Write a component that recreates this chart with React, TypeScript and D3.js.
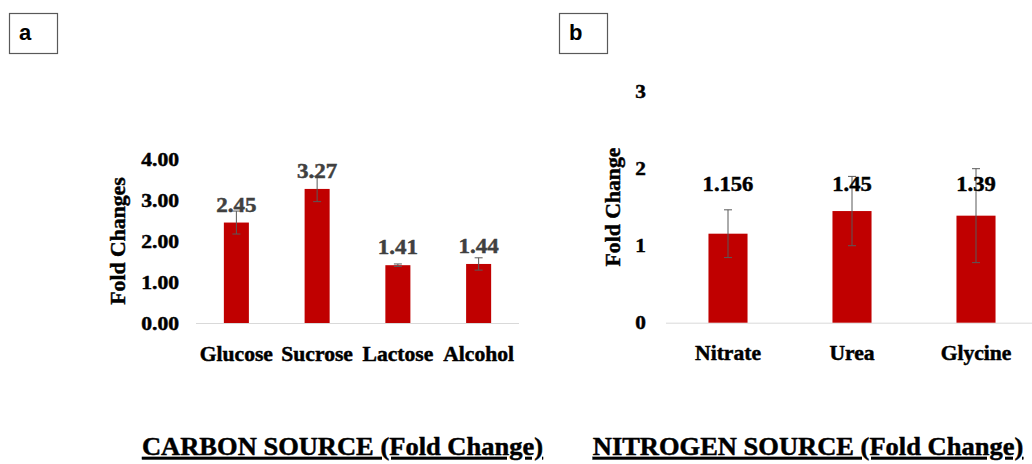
import React from "react";
import * as d3 from "d3";

const carbonCategories = ["Glucose", "Sucrose", "Lactose", "Alcohol"];
const carbonValues = [2.45, 3.27, 1.41, 1.44];
const carbonErrors = [0.28, 0.31, 0.03, 0.15];
const carbonLabels = ["2.45", "3.27", "1.41", "1.44"];
const carbonTicks = [0, 1, 2, 3, 4];

const nitrogenCategories = ["Nitrate", "Urea", "Glycine"];
const nitrogenValues = [1.156, 1.45, 1.39];
const nitrogenErrors = [0.31, 0.45, 0.61];
const nitrogenLabels = ["1.156", "1.45", "1.39"];
const nitrogenTicks = [0, 1, 2, 3];

const SERIF = "'Liberation Serif', 'Times New Roman', serif";
const SANS = "'Liberation Sans', Arial, sans-serif";
const BAR = "#c00000";
const ERR = "#595959";
const AXIS = "#d9d9d9";

type TProps = {
  x: number;
  y: number;
  sx?: number;
  size: number;
  anchor?: "start" | "middle" | "end";
  fill?: string;
  rotate?: number;
  underline?: boolean;
  children: React.ReactNode;
};

function T({ x, y, sx = 1, size, anchor = "middle", fill = "#000", rotate = 0, underline, children }: TProps) {
  return (
    <text
      transform={`translate(${x},${y}) rotate(${rotate}) scale(${sx},1)`}
      textAnchor={anchor}
      fontFamily={SERIF}
      fontWeight="bold"
      fontSize={size}
      fill={fill}
      stroke={fill}
      strokeWidth={0.45}
      textDecoration={underline ? "underline" : undefined}
    >
      {children}
    </text>
  );
}

export default function App() {
  // Panel a scales
  const xa = d3.scaleBand<string>().domain(carbonCategories).range([196, 519]).paddingInner(0.69).paddingOuter(0.345);
  const ya = d3.scaleLinear().domain([0, 4]).range([323, 159]);
  // Panel b scales
  const xb = d3.scaleBand<string>().domain(nitrogenCategories).range([666, 1038]).paddingInner(0.685).paddingOuter(0.3425);
  const yb = d3.scaleLinear().domain([0, 3]).range([322.7, 91.7]);

  const cap = 4;

  return (
    <svg width={1032} height={464} style={{ position: "absolute", left: 0, top: 0, background: "#fff" }}>
      <rect x={0} y={0} width={1032} height={464} fill="#fff" />

      {/* Panel letter boxes */}
      <rect x={9.5} y={13.5} width={48} height={40} fill="#fff" stroke="#595959" strokeWidth={1.2} />
      <text x={19} y={40} fontFamily={SANS} fontWeight="bold" fontSize={22} fill="#000">a</text>
      <rect x={559.5} y={13.5} width={48} height={40} fill="#fff" stroke="#595959" strokeWidth={1.2} />
      <text x={569} y={40} fontFamily={SANS} fontWeight="bold" fontSize={22} fill="#000">b</text>

      {/* ---------- Panel a ---------- */}
      <line x1={196} x2={519} y1={ya(0) + 0.5} y2={ya(0) + 0.5} stroke={AXIS} strokeWidth={1} />
      {carbonTicks.map((t) => (
        <T key={t} x={179} y={ya(t) + 6.5} sx={1.2} size={18} anchor="end">
          {t.toFixed(2)}
        </T>
      ))}
      <T x={125} y={241} sx={1.06} size={20.5} rotate={-90}>Fold Changes</T>
      {carbonCategories.map((c, i) => {
        const cx = (xa(c) as number) + xa.bandwidth() / 2;
        const v = carbonValues[i];
        const e = carbonErrors[i];
        return (
          <g key={c}>
            <rect x={xa(c)} y={ya(v)} width={xa.bandwidth()} height={ya(0) - ya(v)} fill={BAR} />
            <line x1={cx} x2={cx} y1={ya(v + e)} y2={ya(v - e)} stroke={ERR} strokeWidth={1} />
            <line x1={cx - cap} x2={cx + cap} y1={ya(v + e)} y2={ya(v + e)} stroke={ERR} strokeWidth={1} />
            <line x1={cx - cap} x2={cx + cap} y1={ya(v - e)} y2={ya(v - e)} stroke={ERR} strokeWidth={1} />
            <T x={cx} y={ya(v) - 11} sx={1.15} size={20} fill="#404040">{carbonLabels[i]}</T>
            <T x={cx} y={360.5} sx={1.08} size={20}>{c}</T>
          </g>
        );
      })}
      <T x={342.5} y={455} sx={1.06} size={25} underline>CARBON SOURCE (Fold Change)</T>

      {/* ---------- Panel b ---------- */}
      <line x1={666} x2={1032} y1={yb(0) + 0.5} y2={yb(0) + 0.5} stroke={AXIS} strokeWidth={1} />
      {nitrogenTicks.map((t) => (
        <T key={t} x={646} y={yb(t) + 6.5} sx={1.12} size={19} anchor="end">
          {String(t)}
        </T>
      ))}
      <T x={620} y={207} sx={1.06} size={20.5} rotate={-90}>Fold Change</T>
      {nitrogenCategories.map((c, i) => {
        const cx = (xb(c) as number) + xb.bandwidth() / 2;
        const v = nitrogenValues[i];
        const e = nitrogenErrors[i];
        return (
          <g key={c}>
            <rect x={xb(c)} y={yb(v)} width={xb.bandwidth()} height={yb(0) - yb(v)} fill={BAR} />
            <line x1={cx} x2={cx} y1={yb(v + e)} y2={yb(v - e)} stroke={ERR} strokeWidth={1} />
            <line x1={cx - cap} x2={cx + cap} y1={yb(v + e)} y2={yb(v + e)} stroke={ERR} strokeWidth={1} />
            <line x1={cx - cap} x2={cx + cap} y1={yb(v - e)} y2={yb(v - e)} stroke={ERR} strokeWidth={1} />
            <T x={cx} y={yb(1.71)} sx={1.13} size={20}>{nitrogenLabels[i]}</T>
            <T x={cx} y={360} sx={1.08} size={20}>{c}</T>
          </g>
        );
      })}
      <T x={808} y={455} sx={1.06} size={25} underline>NITROGEN SOURCE (Fold Change)</T>
    </svg>
  );
}
